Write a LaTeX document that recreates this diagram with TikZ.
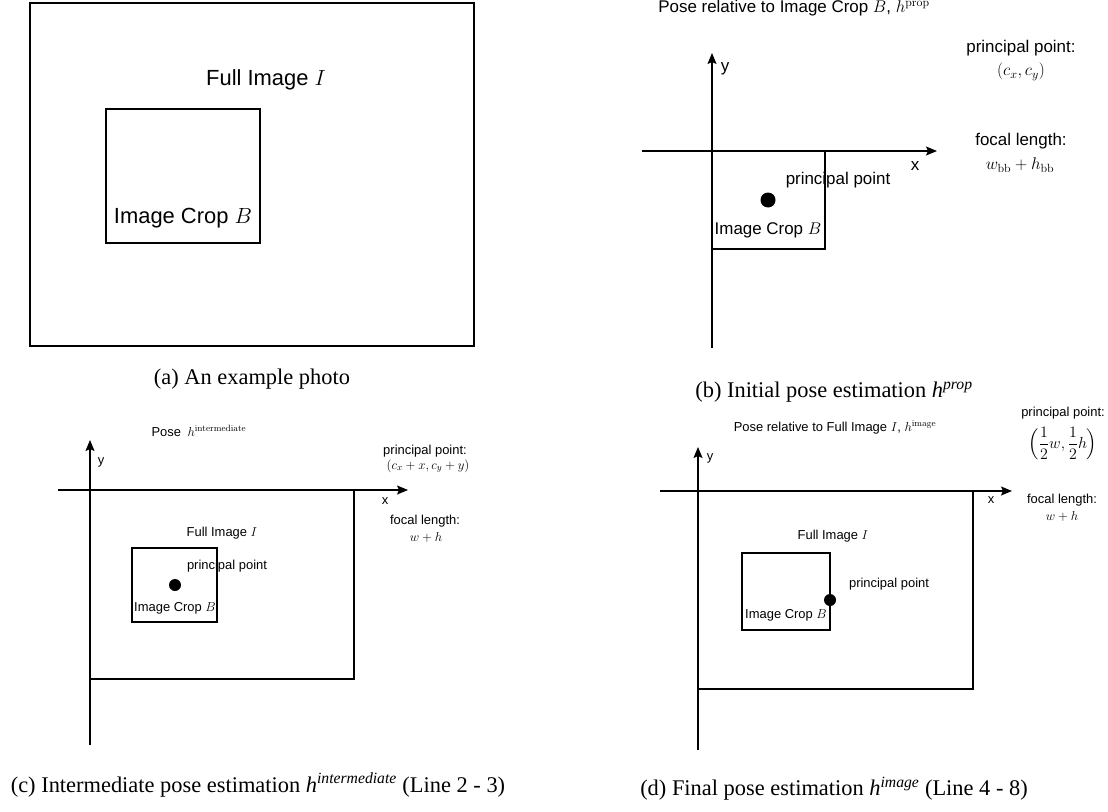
\RequirePackage{fix-cm}
\documentclass[tikz,border=0pt]{standalone}
\usepackage{amsmath}
\usepackage[no-math]{fontspec}
\setmainfont{Liberation Sans}
\newfontfamily\capfont{Liberation Serif}[ItalicFont={Liberation Serif Italic}]
\usetikzlibrary{arrows.meta}
\tikzset{
  frame/.style={draw, line width=1.3bp, inner sep=0, outer sep=0, anchor=north west},
  axisline/.style={draw, line width=1.3bp, -{Stealth[length=11bp,width=9bp,inset=2bp]}},
  pdot/.style={circle, fill=black, inner sep=0},
  txtA/.style={font=\fontsize{22}{26}\selectfont, inner sep=0},
  txtB/.style={font=\fontsize{17}{20}\selectfont, inner sep=0},
  txtC/.style={font=\fontsize{13}{15.5}\selectfont, inner sep=0, align=center},
  captxt/.style={font=\capfont\fontsize{22.5}{27}\selectfont, inner sep=0}
}
\begin{document}
\begin{tikzpicture}[x=1bp,y=-1bp]
\useasboundingbox (0,0) rectangle (1108,812);

% ---------------- (a) ----------------
\node[frame, minimum width=444bp, minimum height=343bp] (aFull) at (30,3) {};
\node[frame, minimum width=154bp, minimum height=134bp] (aCrop) at (106,109) {};
\node[txtA] (aFullLbl) at (266,80) {Full Image $I$};
\node[txtA] (aCropLbl) at (183,218) {Image Crop $B$};
\node[captxt] (aCap) at (252,379) {(a) An example photo};

% ---------------- (b) ----------------
\node[txtB, anchor=base] (bTitle) at (794,13) {Pose relative to Image Crop $B$, $h^{\mathrm{prop}}$};
\coordinate (bY0) at (712,348);
\coordinate (bY1) at (712,53);
\coordinate (bX0) at (642,151);
\coordinate (bX1) at (937,151);
\node[frame, minimum width=113bp, minimum height=98bp] (bCrop) at (712,151) {};
\draw[axisline] (bY0) -- (bY1);
\draw[axisline] (bX0) -- (bX1);
\node[txtB] (bYl) at (725,69) {y};
\node[txtB] (bXl) at (915,166) {x};
\node[pdot, minimum size=15bp] (bDot) at (768,200) {};
\node[txtB] (bPP) at (838,180) {principal point};
\node[txtB] (bCropLbl) at (768,230) {Image Crop $B$};
\node[txtB] (bPPh) at (1021,48) {principal point:};
\node[txtB] (bPPv) at (1021,72) {$(c_x, c_y)$};
\node[txtB] (bFLh) at (1021,141) {focal length:};
\node[txtB] (bFLv) at (1020,165) {$w_{\mathrm{bb}} + h_{\mathrm{bb}}$};
\node[captxt] (bCap) at (834,392) {(b) Initial pose estimation \textit{h}\textsuperscript{\itshape prop}};

% ---------------- (c) ----------------
\node[txtC] (cTitle) at (199,431) {Pose\enspace $h^{\mathrm{intermediate}}$};
\coordinate (cY0) at (90,745);
\coordinate (cY1) at (90,440);
\coordinate (cX0) at (58,490);
\coordinate (cX1) at (408,490);
\node[frame, minimum width=264bp, minimum height=189bp] (cFull) at (90,490) {};
\node[frame, minimum width=85bp, minimum height=74bp] (cCrop) at (132,548) {};
\draw[axisline] (cY0) -- (cY1);
\draw[axisline] (cX0) -- (cX1);
\node[txtC] (cYl) at (101,462) {y};
\node[txtC] (cXl) at (385,501) {x};
\node[txtC] (cFullLbl) at (222,533) {Full Image $I$};
\node[pdot, minimum size=12bp] (cDot) at (175,585) {};
\node[txtC] (cPP) at (227,566) {principal point};
\node[txtC] (cCropLbl) at (175,608) {Image Crop $B$};
\node[txtC] (cPPh) at (425,451) {principal point:};
\node[txtC] (cPPv) at (428,466) {$(c_x + x, c_y + y)$};
\node[txtC] (cFLh) at (425,521) {focal length:};
\node[txtC] (cFLv) at (426,537) {$w + h$};
\node[captxt] (cCap) at (258,785) {(c) Intermediate pose estimation \textit{h}\textsuperscript{\itshape intermediate} (Line 2 - 3)};

% ---------------- (d) ----------------
\node[txtC] (dTitle) at (835,427) {Pose relative to Full Image $I$, $h^{\mathrm{image}}$};
\coordinate (dY0) at (698,750);
\coordinate (dY1) at (698,447);
\coordinate (dX0) at (660,491);
\coordinate (dX1) at (1012,491);
\node[frame, minimum width=275bp, minimum height=198bp] (dFull) at (698,491) {};
\node[frame, minimum width=88bp, minimum height=77bp] (dCrop) at (742,553) {};
\draw[axisline] (dY0) -- (dY1);
\draw[axisline] (dX0) -- (dX1);
\node[txtC] (dYl) at (710,458) {y};
\node[txtC] (dXl) at (991,500) {x};
\node[txtC] (dFullLbl) at (833,536) {Full Image $I$};
\node[pdot, minimum size=12bp] (dDot) at (830,600) {};
\node[txtC] (dPP) at (889,584) {principal point};
\node[txtC] (dCropLbl) at (786,615) {Image Crop $B$};
\node[txtC] (dPPh) at (1063,413) {principal point:};
\node[txtC, font=\fontsize{16}{19}\selectfont] (dPPv) at (1063,444) {$\left(\dfrac{1}{2}w, \dfrac{1}{2}h\right)$};
\node[txtC] (dFLh) at (1062,500) {focal length:};
\node[txtC] (dFLv) at (1062,516) {$w + h$};
\node[captxt] (dCap) at (834,789) {(d) Final pose estimation \textit{h}\textsuperscript{\itshape image} (Line 4 - 8)};
\end{tikzpicture}
\end{document}
